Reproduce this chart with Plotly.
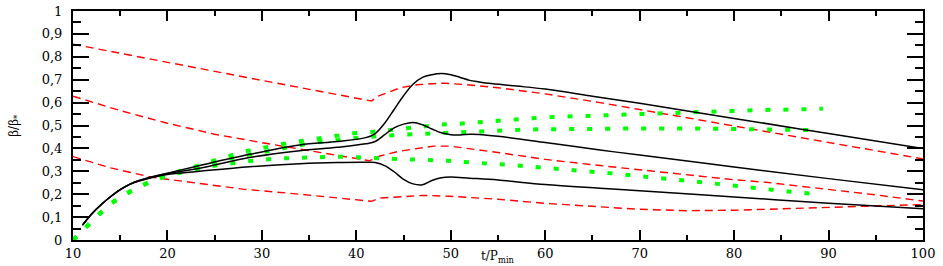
import plotly.graph_objects as go

# ---- black solid curves ----
bt_x = [11, 12, 13, 14, 15, 16, 17, 18, 19, 20, 23.4, 28.7, 34, 38, 41, 42, 43, 44, 45, 46, 47, 48, 49, 50, 51, 52, 53, 54, 57, 60, 65, 70, 80, 90, 100]
bt_y = [0.065, 0.115, 0.155, 0.19, 0.22, 0.243, 0.26, 0.272, 0.282, 0.292, 0.325, 0.374, 0.415, 0.43, 0.447, 0.465, 0.51, 0.57, 0.63, 0.68, 0.71, 0.722, 0.727, 0.722, 0.71, 0.697, 0.69, 0.684, 0.672, 0.659, 0.628, 0.597, 0.531, 0.465, 0.40]

bm_x = [11, 12, 13, 14, 15, 16, 17, 18, 19, 20, 23.4, 28.7, 34, 38, 41, 42, 43, 44, 45, 46, 47, 48, 49, 50, 51, 52, 53, 55, 60, 65.8, 70, 80, 90, 100]
bm_y = [0.065, 0.115, 0.155, 0.19, 0.22, 0.243, 0.26, 0.272, 0.282, 0.29, 0.313, 0.36, 0.39, 0.405, 0.42, 0.43, 0.46, 0.49, 0.506, 0.513, 0.503, 0.485, 0.468, 0.46, 0.459, 0.462, 0.461, 0.453, 0.426, 0.393, 0.371, 0.319, 0.268, 0.219]

bb_x = [11, 12, 13, 14, 15, 16, 17, 18, 19, 20, 23.4, 28.7, 34, 38, 41, 42, 43, 44, 45, 46, 47, 48, 49, 50, 52, 55, 60, 65.8, 70, 80, 90, 100]
bb_y = [0.065, 0.115, 0.155, 0.19, 0.22, 0.243, 0.258, 0.269, 0.278, 0.286, 0.30, 0.32, 0.333, 0.338, 0.339, 0.338, 0.325, 0.298, 0.265, 0.245, 0.241, 0.26, 0.272, 0.275, 0.27, 0.262, 0.242, 0.226, 0.215, 0.188, 0.161, 0.136]

# ---- red dashed curves ----
r1_x = [10, 20, 30, 41.6, 42.3, 44.6, 46.4, 49.2, 51.7, 55, 60, 65.8, 70, 80, 90, 100]
r1_y = [0.855, 0.775, 0.697, 0.607, 0.628, 0.664, 0.678, 0.685, 0.678, 0.665, 0.638, 0.60, 0.57, 0.497, 0.424, 0.354]

r2_x = [10, 15, 20, 25, 30, 35, 41.4, 42.5, 44.6, 48.2, 49.9, 55.2, 60, 65.8, 70, 75, 80, 83.4, 90, 95, 100]
r2_y = [0.628, 0.565, 0.51, 0.462, 0.425, 0.39, 0.346, 0.367, 0.388, 0.41, 0.41, 0.381, 0.352, 0.325, 0.307, 0.284, 0.263, 0.252, 0.222, 0.197, 0.17]

r3_x = [10, 14, 18.2, 23.4, 28, 34, 41.6, 42.5, 47.1, 49.9, 55, 60, 65, 70, 75, 80, 85, 90, 95, 100]
r3_y = [0.364, 0.315, 0.275, 0.247, 0.222, 0.2, 0.169, 0.183, 0.195, 0.191, 0.178, 0.16, 0.147, 0.134, 0.128, 0.13, 0.136, 0.143, 0.15, 0.155]

# ---- green dotted curves ----
ga_x = [10, 10.7, 11.3, 12, 12.7, 13.4, 14.3, 15.2, 16.2, 17.3, 18.5, 19.9, 21.3, 22.7, 24.9, 26.6, 28, 29.6, 31.2, 32.8, 34.6, 36.2, 37.9, 39.7, 41.6, 43.4, 46, 49, 51, 52.9, 54.9, 56.8, 58.7, 60.7, 62.8, 64.7, 66.7, 68.8, 70.8, 72.9, 74.8, 76.8, 78.9, 80.9, 83.1, 85.2, 87.3, 89.4]
ga_y = [0, 0.028, 0.056, 0.085, 0.113, 0.138, 0.167, 0.19, 0.215, 0.237, 0.261, 0.282, 0.30, 0.318, 0.345, 0.37, 0.386, 0.398, 0.412, 0.424, 0.435, 0.445, 0.456, 0.466, 0.472, 0.48, 0.492, 0.504, 0.508, 0.515, 0.52, 0.525, 0.532, 0.537, 0.54, 0.544, 0.547, 0.551, 0.554, 0.555, 0.559, 0.562, 0.565, 0.568, 0.568, 0.569, 0.572, 0.573]

gb_x = [10, 10.7, 11.3, 12, 12.7, 13.4, 14.3, 15.2, 16.2, 17.3, 18.5, 19.9, 21, 23, 25, 27, 29, 31, 33, 35.3, 38, 40.7, 44.4, 46.6, 48.5, 50.6, 52.6, 54.5, 56.6, 58.7, 60.8, 62.8, 66, 70, 75.7, 80, 82.1, 84.1, 86.2, 88.4]
gb_y = [0, 0.028, 0.056, 0.085, 0.113, 0.138, 0.167, 0.19, 0.215, 0.237, 0.261, 0.282, 0.297, 0.315, 0.338, 0.36, 0.375, 0.39, 0.405, 0.424, 0.437, 0.449, 0.459, 0.463, 0.468, 0.473, 0.476, 0.478, 0.48, 0.483, 0.484, 0.487, 0.487, 0.487, 0.487, 0.486, 0.484, 0.483, 0.482, 0.48]

gc_x = [10, 10.7, 11.3, 12, 12.7, 13.4, 14.3, 15.2, 16.2, 17.3, 18.5, 19.9, 21.5, 23, 24.5, 26.3, 28, 29.8, 31.9, 34, 35.8, 37.9, 40, 41.9, 44.3, 46.4, 48.2, 50.1, 52, 54.2, 55.9, 57.9, 59.8, 61.7, 63.7, 65.5, 67.4, 69.2, 71.1, 72.9, 74.8, 76.6, 78.5, 80.3, 82.1, 84, 85.7, 87.5, 89.3]
gc_y = [0, 0.028, 0.056, 0.085, 0.113, 0.138, 0.167, 0.19, 0.215, 0.237, 0.261, 0.28, 0.295, 0.31, 0.322, 0.332, 0.342, 0.35, 0.356, 0.36, 0.36, 0.364, 0.361, 0.358, 0.356, 0.353, 0.349, 0.345, 0.339, 0.335, 0.329, 0.322, 0.316, 0.309, 0.304, 0.297, 0.29, 0.282, 0.275, 0.268, 0.261, 0.251, 0.244, 0.236, 0.227, 0.219, 0.212, 0.205, 0.198]

x_ticks = [10, 20, 30, 40, 50, 60, 70, 80, 90, 100]
y_ticks = [0, 0.1, 0.2, 0.3, 0.4, 0.5, 0.6, 0.7, 0.8, 0.9, 1]

FONT = "DejaVu Serif"

fig = go.Figure()

red_line = dict(color="#ff0000", width=1.4, dash="8px,5px")
for xs, ys in [(r1_x, r1_y), (r2_x, r2_y), (r3_x, r3_y)]:
    fig.add_trace(go.Scatter(x=xs, y=ys, mode="lines", line=red_line, showlegend=False))

green_line = dict(color="#00ff00", width=4, dash="5px,13px")
for xs, ys in [(ga_x, ga_y), (gb_x, gb_y), (gc_x, gc_y)]:
    fig.add_trace(go.Scatter(x=xs, y=ys, mode="lines", line=green_line, showlegend=False))

black_line = dict(color="#000000", width=1.5)
for xs, ys in [(bt_x, bt_y), (bm_x, bm_y), (bb_x, bb_y)]:
    fig.add_trace(go.Scatter(x=xs, y=ys, mode="lines", line=black_line,
                             line_shape="spline", showlegend=False))

fig.update_layout(
    width=943, height=266,
    margin=dict(l=73, r=20, t=4, b=26),
    paper_bgcolor="white", plot_bgcolor="white",
    separators=",.",
    font=dict(family=FONT, size=13, color="black"),
    xaxis=dict(range=[10, 100], tickvals=x_ticks, ticktext=[str(v) for v in x_ticks],
               showline=True, linecolor="black", linewidth=2, mirror="ticks",
               ticks="inside", ticklen=10, tickwidth=1.5, tickcolor="black",
               minor=dict(dtick=5, ticks="inside", ticklen=5, tickwidth=1.5, tickcolor="black"),
               showgrid=False, zeroline=False, tickfont=dict(family=FONT, size=13),
               ticklabeloverflow="allow"),
    yaxis=dict(range=[0, 1], tickvals=y_ticks,
               showline=True, linecolor="black", linewidth=2, mirror="ticks",
               ticks="inside", ticklen=16, tickwidth=1.5, tickcolor="black",
               minor=dict(dtick=0.05, ticks="inside", ticklen=8, tickwidth=1.5, tickcolor="black"),
               showgrid=False, zeroline=False, tickfont=dict(family=FONT, size=13),
               ticklabelstandoff=6, ticklabeloverflow="allow"),
    annotations=[
        dict(text="t/P<sub>min</sub>", xref="paper", yref="paper", x=0.5, y=-0.075,
             xanchor="center", yanchor="middle", showarrow=False,
             font=dict(family=FONT, size=12)),
        dict(text="β/β<sub>*</sub>", xref="paper", yref="paper", x=-0.069, y=0.5,
             xanchor="center", yanchor="middle", textangle=-90, showarrow=False,
             font=dict(family=FONT, size=12)),
    ],
)

fig.write_html("out.html", config={"displayModeBar": False},
               post_script="document.body.style.margin='0';document.body.style.overflow='hidden';")
